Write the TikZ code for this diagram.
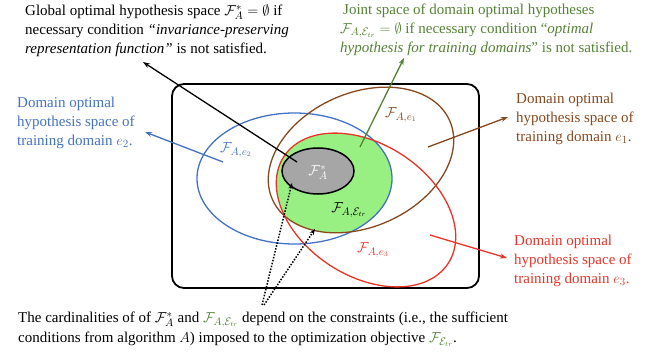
\documentclass[tikz,border=0pt]{standalone}
\usepackage{fontspec}
\setmainfont{Liberation Serif}
\usetikzlibrary{arrows.meta}
\definecolor{blueC}{RGB}{68,114,196}
\definecolor{brownC}{RGB}{135,72,30}
\definecolor{redC}{RGB}{232,52,40}
\definecolor{greenT}{RGB}{84,130,53}
\definecolor{greenF}{RGB}{152,240,130}
\definecolor{grayF}{RGB}{166,166,166}
\tikzset{
  txt/.style={anchor=north west, inner sep=0pt, align=left, font=\fontsize{15}{18.7}\selectfont},
  lab/.style={inner sep=0pt, font=\fontsize{15}{17}\selectfont},
  ell/.style={line width=1.3pt},
  arr/.style={line width=1.3pt, -{Stealth[length=7pt,width=5pt]}},
  dotarr/.style={line width=1.5pt, dash pattern=on 1.5pt off 1.5pt, -{Stealth[length=6pt,width=4.5pt]}}
}
\begin{document}
\begin{tikzpicture}[x=1pt,y=1pt]
\useasboundingbox (0,0) rectangle (650,354);
% frame
\draw[line width=1.8pt, rounded corners=12pt] (172,66) rectangle (479,270);
% green intersection
\begin{scope}
  \clip (294.5,175.5) ellipse [x radius=97.5pt, y radius=65.5pt];
  \clip[rotate around={24:(361,194)}] (361,194) ellipse [x radius=97pt, y radius=67pt];
  \clip[rotate around={-33:(366,144)}] (366,144) ellipse [x radius=98pt, y radius=66pt];
  \fill[greenF] (172,66) rectangle (479,270);
\end{scope}
% ellipses
\draw[ell, blueC] (294.5,175.5) ellipse [x radius=97.5pt, y radius=65.5pt];
\draw[ell, brownC, rotate around={24:(361,194)}] (361,194) ellipse [x radius=97pt, y radius=67pt];
\draw[ell, redC, rotate around={-33:(366,144)}] (366,144) ellipse [x radius=98pt, y radius=66pt];
\draw[line width=1.5pt, draw=black, fill=grayF] (318,183) ellipse [x radius=36pt, y radius=23pt];
% labels inside
\node[lab, blueC] (le2) at (236,204) {$\mathcal{F}_{A,e_2}$};
\node[lab, brownC] (le1) at (401,239) {$\mathcal{F}_{A,e_1}$};
\node[lab, white] (lstar) at (318,182) {$\mathcal{F}_{A}^{*}$};
\node[lab, black] (ltr) at (349,144) {$\mathcal{F}_{A,\mathcal{E}_{tr}}$};
\node[lab, redC] (le3) at (373,104) {$\mathcal{F}_{A,e_3}$};
% texts
\node[txt] (tglob) at (25,349) {Global optimal hypothesis space $\mathcal{F}_A^{*}=\emptyset$ if\\
necessary condition \textit{``invariance-preserving}\\
\textit{representation function''} is not satisfied.};
\node[txt, greenT] (tjoint) at (340,350) {\hspace{3pt}Joint space of domain optimal hypotheses\\
$\mathcal{F}_{A,\mathcal{E}_{tr}}=\emptyset$ if necessary condition ``\textit{optimal}\\
\textit{hypothesis for training domains}'' is not satisfied.};
\node[txt, blueC] (te2) at (17,257) {Domain optimal\\hypothesis space of\\training domain $e_2$.};
\node[txt, brownC] (te1) at (516,261) {Domain optimal\\hypothesis space of\\training domain $e_1$.};
\node[txt, redC] (te3) at (514,119) {Domain optimal\\hypothesis space of\\training domain $e_3$.};
\node[txt, font=\fontsize{15}{20}\selectfont] (tbot) at (18,42) {The cardinalities of of $\mathcal{F}_A^{*}$ and {\color{greenT}$\mathcal{F}_{A,\mathcal{E}_{tr}}$} depend on the constraints (i.e., the sufficient\\
conditions from algorithm $A$) imposed to the optimization objective {\color{greenT}$\mathcal{F}_{\mathcal{E}_{tr}}$}.};
% arrow coordinates
\coordinate (bA) at (297,192); \coordinate (bB) at (143,292);
\coordinate (uA) at (223,192); \coordinate (uB) at (145,222);
\coordinate (gA) at (360,207); \coordinate (gB) at (404,296);
\coordinate (rA) at (428,207); \coordinate (rB) at (508,237);
\coordinate (eA) at (430,119); \coordinate (eB) at (507,96);
\coordinate (d1A) at (262,49); \coordinate (d1B) at (292,171);
\coordinate (d2A) at (264,49); \coordinate (d2B) at (315,125);
\draw[arr, black] (bA) -- (bB);
\draw[arr, blueC] (uA) -- (uB);
\draw[arr, greenT] (gA) -- (gB);
\draw[arr, brownC] (rA) -- (rB);
\draw[arr, redC] (eA) -- (eB);
\draw[dotarr] (d1A) -- (d1B);
\draw[dotarr] (d2A) -- (d2B);
\end{tikzpicture}
\end{document}
